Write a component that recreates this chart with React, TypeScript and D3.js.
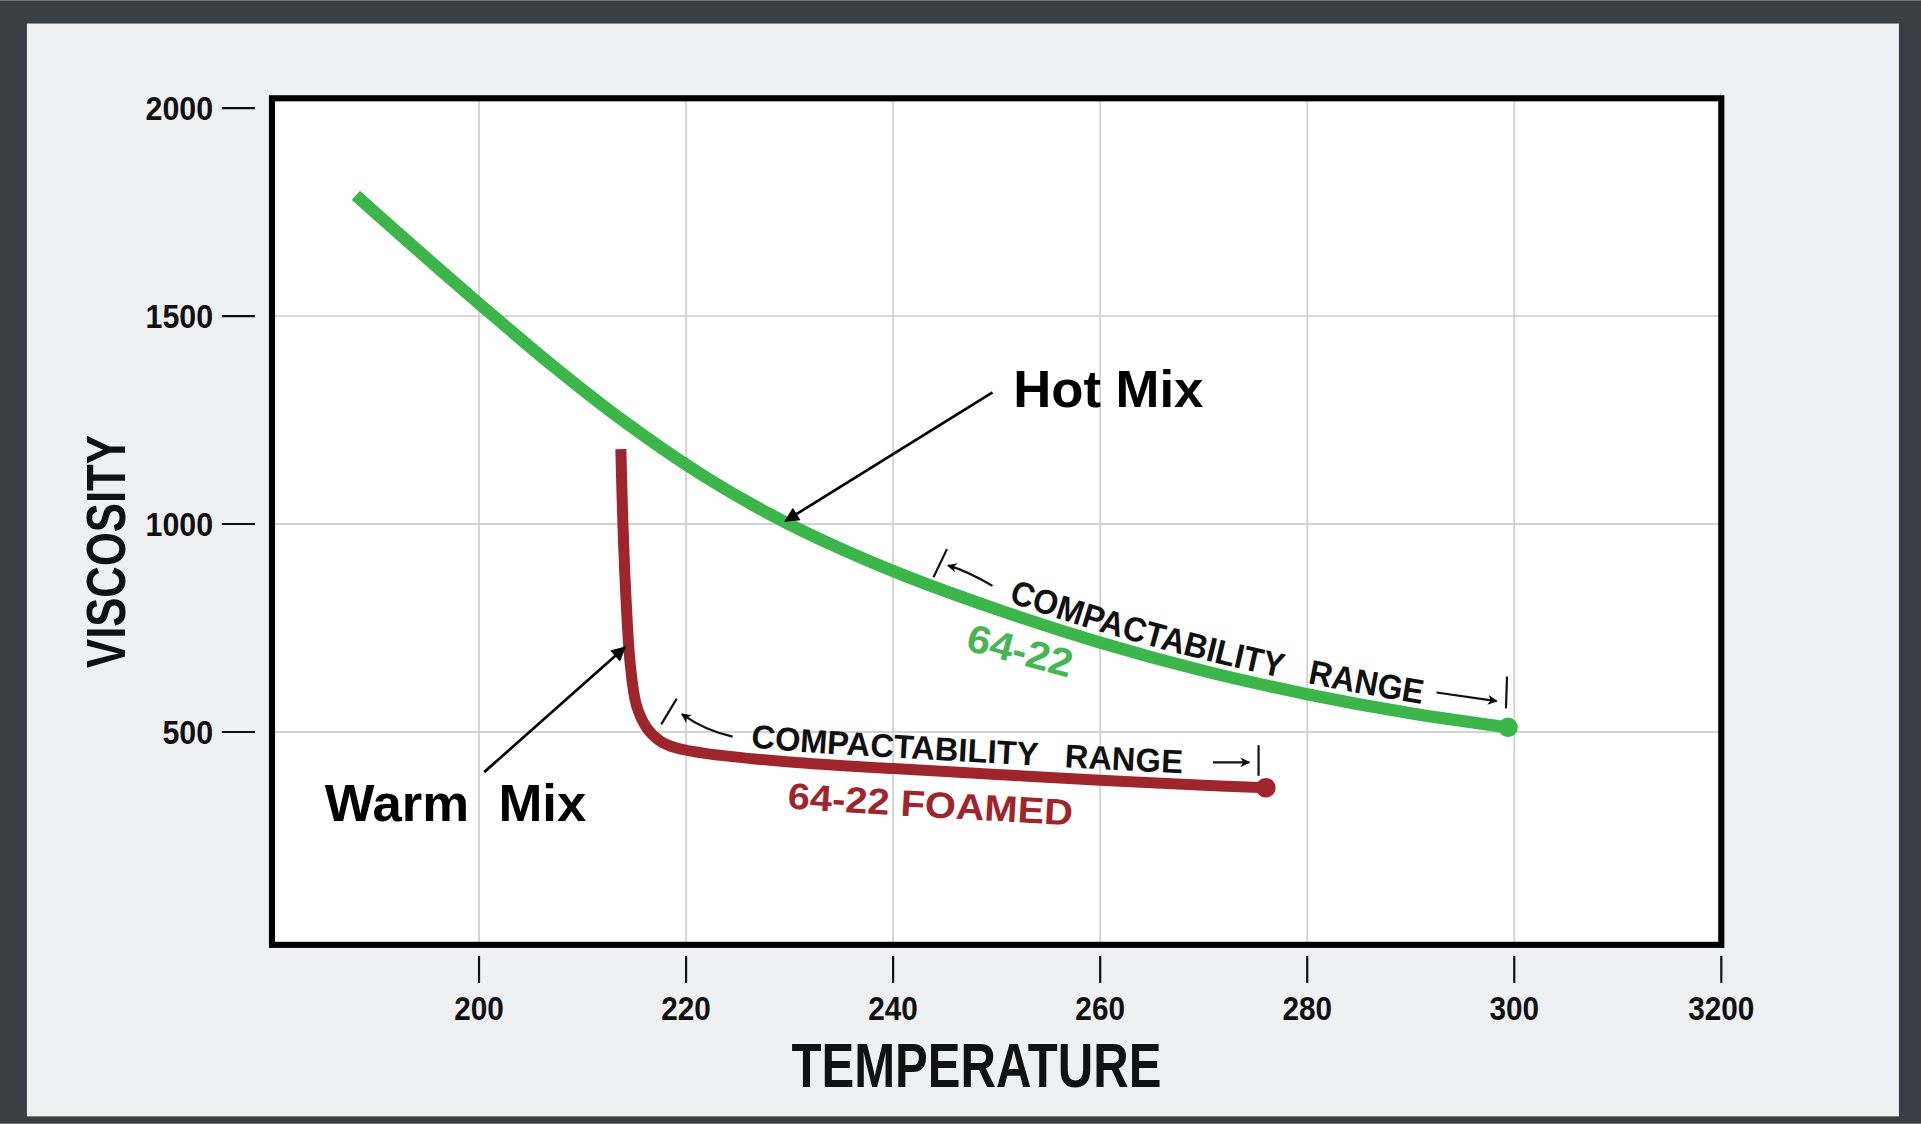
import * as d3 from "d3";

// Hot mix (64-22) viscosity curve
const hotTemp = [188.1, 195, 200, 207, 214, 222, 230, 240, 250, 260, 270, 280, 290, 299.4];
const hotVisc = [1790, 1638, 1530, 1383, 1247, 1111, 999, 887, 795, 715, 647, 591, 545, 511];

// Warm mix (64-22 foamed) viscosity curve
const warmTemp = [213.7, 213.9, 214.2, 214.6, 215.2, 216.2, 217.5, 219, 222, 230, 240, 250, 260, 270, 276];
const warmVisc = [1180, 1000, 820, 665, 565, 510, 478, 462, 448, 428, 412, 398, 384, 372, 366];

const xTickValues = [200, 220, 240, 260, 280, 300, 320];
const xTickLabels = ["200", "220", "240", "260", "280", "300", "3200"];
const yTickValues = [500, 1000, 1500, 2000];
const yTickLabels = ["500", "1000", "1500", "2000"];

const W = 1568;
const H = 917;
const box = { left: 222, right: 1405, top: 80, bottom: 771 };

const x = d3.scaleLinear().domain([180, 320]).range([box.left, box.right]);
const y = d3.scaleLinear().domain([0, 2000]).range([767, 88]);

const GREEN = "#3cb54a";
const RED = "#9e252b";
const FONT = "'Liberation Sans', Arial, Helvetica, sans-serif";

const lineGen = (dy: number) =>
  d3
    .line<[number, number]>()
    .x((d) => x(d[0]))
    .y((d) => y(d[1]) + dy)
    .curve(d3.curveCatmullRom.alpha(0.5));

const zip = (a: number[], b: number[]): [number, number][] => a.map((t, i) => [t, b[i]]);

const hotPts = zip(hotTemp, hotVisc);
const warmPts = zip(warmTemp, warmVisc);

const P = (t: number, v: number) => `${x(t)},${y(v)}`;

const App = () => {
  const hotLast = hotPts[hotPts.length - 1];
  const warmLast = warmPts[warmPts.length - 1];

  return (
    <div style={{ position: "absolute", left: 0, top: 0 }}>
      <svg width={1921} height={1124} viewBox={`0 0 ${W} ${H}`} style={{ display: "block" }}>
        <defs>
          <marker id="bigArrow" viewBox="0 0 10 10" refX="9" refY="5" markerUnits="userSpaceOnUse"
            markerWidth="17" markerHeight="12" orient="auto">
            <path d="M0,0 L10,5 L0,10 z" fill="#000" />
          </marker>
          <marker id="smallArrow" viewBox="0 0 10 10" refX="9" refY="5" markerUnits="userSpaceOnUse"
            markerWidth="10" markerHeight="8" orient="auto">
            <path d="M0,0 L10,5 L0,10 L3,5 z" fill="#000" />
          </marker>
          <path id="greenTextPath" d={lineGen(-9)(hotPts.filter((d) => d[0] >= 250)) || ""} />
          <path id="redTextPath" d={lineGen(-9)(warmPts.filter((d) => d[0] >= 222)) || ""} />
          <path id="redLabelPath" d={lineGen(38)(warmPts.filter((d) => d[0] >= 222)) || ""} />
        </defs>

        {/* frame */}
        <rect x={0} y={0} width={W} height={H} fill="#3b3e45" />
        <rect x={22} y={19} width={1528} height={892} fill="#eff0f2" />

        {/* plot area */}
        <rect x={box.left} y={box.top} width={box.right - box.left} height={box.bottom - box.top} fill="#fff" />

        {/* grid */}
        {xTickValues.slice(0, -1).map((v) => (
          <line key={`gx${v}`} x1={x(v)} x2={x(v)} y1={box.top} y2={box.bottom} stroke="#d2d2d2" strokeWidth={1.5} />
        ))}
        {yTickValues.slice(0, -1).map((v) => (
          <line key={`gy${v}`} x1={box.left} x2={box.right} y1={y(v)} y2={y(v)} stroke="#d2d2d2" strokeWidth={1.5} />
        ))}

        <rect x={box.left} y={box.top} width={box.right - box.left} height={box.bottom - box.top}
          fill="none" stroke="#000" strokeWidth={5} />

        {/* y axis ticks */}
        {yTickValues.map((v, i) => (
          <g key={`yt${v}`}>
            <line x1={181} x2={208} y1={y(v)} y2={y(v)} stroke="#111" strokeWidth={1.8} />
            <text x={174} y={y(v)} dy="0.36em" textAnchor="end" fontFamily={FONT} fontWeight="bold"
              fontSize={27} fill="#111" textLength={yTickLabels[i].length * 13.8} lengthAdjust="spacingAndGlyphs">
              {yTickLabels[i]}
            </text>
          </g>
        ))}

        {/* x axis ticks */}
        {xTickValues.map((v, i) => (
          <g key={`xt${v}`}>
            <line x1={x(v)} x2={x(v)} y1={780} y2={802} stroke="#111" strokeWidth={1.8} />
            <text x={x(v)} y={832} textAnchor="middle" fontFamily={FONT} fontWeight="bold"
              fontSize={27} fill="#111" textLength={xTickLabels[i].length * 13.5} lengthAdjust="spacingAndGlyphs">
              {xTickLabels[i]}
            </text>
          </g>
        ))}

        {/* axis titles */}
        <text x={797} y={887} textAnchor="middle" fontFamily={FONT} fontWeight="bold" fontSize={52}
          fill="#111" textLength={302} lengthAdjust="spacingAndGlyphs">TEMPERATURE</text>
        <text transform="translate(102,450) rotate(-90)" textAnchor="middle" fontFamily={FONT} fontWeight="bold"
          fontSize={46} fill="#111" textLength={190} lengthAdjust="spacingAndGlyphs">VISCOSITY</text>

        {/* curves */}
        <path d={lineGen(0)(hotPts) || ""} fill="none" stroke={GREEN} strokeWidth={10} />
        <circle cx={x(hotLast[0])} cy={y(hotLast[1])} r={8} fill={GREEN} />
        <path d={lineGen(0)(warmPts) || ""} fill="none" stroke={RED} strokeWidth={9} />
        <circle cx={x(warmLast[0])} cy={y(warmLast[1])} r={8} fill={RED} />

        {/* compactability range, hot mix */}
        <text fontFamily={FONT} fontWeight="bold" fontSize={28} fill="#111" style={{ whiteSpace: "pre" }}>
          <textPath href="#greenTextPath" startOffset={10} textLength={348} lengthAdjust="spacingAndGlyphs">
            {"COMPACTABILITY   RANGE"}
          </textPath>
        </text>
        <line x1={x(243.9)} y1={y(871.9)} x2={x(245.2)} y2={y(939.6)} stroke="#111" strokeWidth={1.8} />
        <path d={`M${P(249.6, 851.3)} Q${P(247.2, 886.6)} ${P(245.3, 900.5)}`} fill="none" stroke="#111"
          strokeWidth={1.8} markerEnd="url(#smallArrow)" />
        <line x1={x(292.5)} y1={y(595)} x2={x(298.3)} y2={y(574.4)} stroke="#111" strokeWidth={1.8}
          markerEnd="url(#smallArrow)" />
        <line x1={x(299.3)} y1={y(633.3)} x2={x(299.2)} y2={y(556.7)} stroke="#111" strokeWidth={1.8} />
        <text transform={`translate(${x(246.9)},${y(698)}) rotate(15)`} fontFamily={FONT} fontWeight="bold"
          fontSize={32} fill="#46b655" textLength={88} lengthAdjust="spacingAndGlyphs">64-22</text>

        {/* compactability range, warm mix */}
        <text fontFamily={FONT} fontWeight="bold" fontSize={27} fill="#111" style={{ whiteSpace: "pre" }}>
          <textPath href="#redTextPath" startOffset={36} textLength={353} lengthAdjust="spacingAndGlyphs">
            {"COMPACTABILITY   RANGE"}
          </textPath>
        </text>
        <line x1={x(217.6)} y1={y(518.4)} x2={x(219.1)} y2={y(580.3)} stroke="#111" strokeWidth={1.8} />
        <path d={`M${P(224.5, 489)} Q${P(221.8, 503.7)} ${P(219.6, 543)}`} fill="none" stroke="#111"
          strokeWidth={1.8} markerEnd="url(#smallArrow)" />
        <line x1={x(270.9)} y1={y(427.1)} x2={x(274.4)} y2={y(427.1)} stroke="#111" strokeWidth={1.8}
          markerEnd="url(#smallArrow)" />
        <line x1={x(275.3)} y1={y(468.3)} x2={x(275.3)} y2={y(394.7)} stroke="#111" strokeWidth={1.8} />
        <text fontFamily={FONT} fontWeight="bold" fontSize={30} fill={RED}>
          <textPath href="#redLabelPath" startOffset={66} textLength={233} lengthAdjust="spacingAndGlyphs">
            64-22 FOAMED
          </textPath>
        </text>

        {/* callouts */}
        <line x1={x(249.6)} y1={y(1316.6)} x2={x(229.6)} y2={y(1007.4)} stroke="#000" strokeWidth={2.2}
          markerEnd="url(#bigArrow)" />
        <text x={x(251.6)} y={y(1281.3)} fontFamily={FONT} fontWeight="bold" fontSize={43} fill="#000">Hot Mix</text>
        <line x1={x(200.5)} y1={y(403.5)} x2={x(214.1)} y2={y(704)} stroke="#000" strokeWidth={2.2}
          markerEnd="url(#bigArrow)" />
        <text x={x(185.1)} y={y(285.7)} fontFamily={FONT} fontWeight="bold" fontSize={43} fill="#000"
          style={{ whiteSpace: "pre" }}>{"Warm  Mix"}</text>
      </svg>
    </div>
  );
};

export default App;
